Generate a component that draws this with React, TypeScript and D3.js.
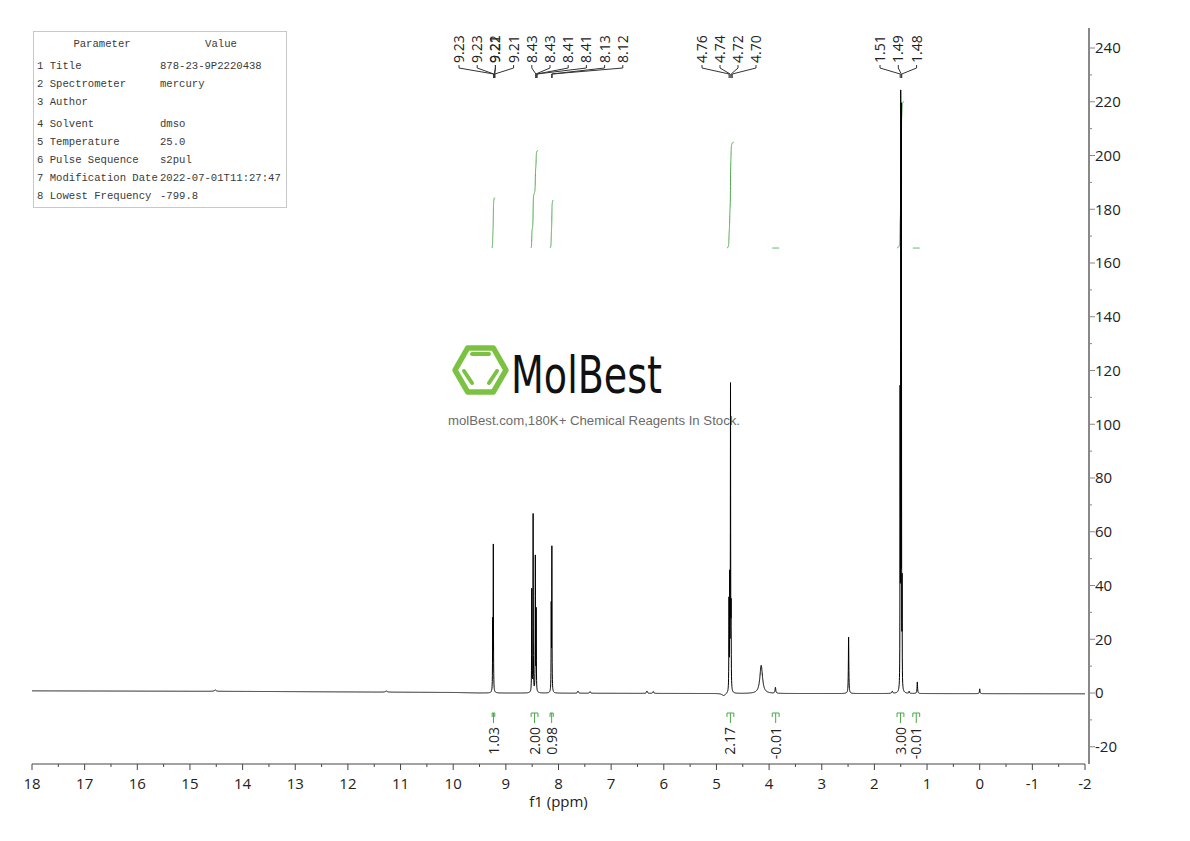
import React from "react";
import * as d3 from "d3";

// ---------------- DATA ----------------
const xTickValues = [18, 17, 16, 15, 14, 13, 12, 11, 10, 9, 8, 7, 6, 5, 4, 3, 2, 1, 0, -1, -2];
const yTickValues = [-20, 0, 20, 40, 60, 80, 100, 120, 140, 160, 180, 200, 220, 240];

// spectrum lines: ppm, height, half-width (ppm)
const peakPpm = [14.52, 11.27, 9.25, 9.238, 8.508, 8.482, 8.44, 8.424, 8.138, 8.126, 7.63, 7.4, 6.32, 6.2,
  4.762, 4.748, 4.733, 4.722, 4.86, 4.15, 3.88, 2.49, 1.66, 1.512, 1.5, 1.487, 1.474, 1.34, 1.185, 0.0];
const peakHeight = [0.5, 0.4, 25, 54, 38, 66, 50, 30, 31, 53, 0.8, 0.6, 0.9, 0.7,
  33, 40, 112, 27, -0.9, 10.5, 2.2, 21, 0.8, 106, 215, 212, 37, 0.8, 4.3, 1.8];
const peakWidth = [0.02, 0.02, 0.003, 0.003, 0.003, 0.003, 0.003, 0.003, 0.003, 0.003, 0.01, 0.01, 0.01, 0.01,
  0.003, 0.003, 0.003, 0.003, 0.04, 0.03, 0.008, 0.005, 0.01, 0.0022, 0.0022, 0.0022, 0.0022, 0.006, 0.006, 0.006];

// baseline drift
const baselinePpm = [18, 14, 10, 9.5, 5, 2, -2];
const baselineVal = [0.8, 0.6, 0.2, 0.0, -0.2, -0.2, -0.3];

// integrals
const integralFrom = [9.26, 8.52, 8.16, 4.8, 3.94, 1.57, 1.27];
const integralTo = [9.21, 8.39, 8.1, 4.67, 3.81, 1.44, 1.14];
const integralValues = ["1.03", "2.00", "0.98", "2.17", "-0.01", "3.00", "-0.01"];

// peak labels
const peakLabelGroup1 = ["9.23", "9.23", "9.22", "9.21", "9.21", "8.43", "8.43", "8.41", "8.41", "8.13", "8.12"];
const peakLabelGroup2 = ["4.76", "4.74", "4.72", "4.70"];
const peakLabelGroup3 = ["1.51", "1.49", "1.48"];

// parameter table
const paramNames = ["1 Title", "2 Spectrometer", "3 Author", "4 Solvent", "5 Temperature", "6 Pulse Sequence", "7 Modification Date", "8 Lowest Frequency"];
const paramValues = ["878-23-9P2220438", "mercury", "", "dmso", "25.0", "s2pul", "2022-07-01T11:27:47", "-799.8"];

// ---------------- LAYOUT ----------------
const x = d3.scaleLinear().domain([18, -2]).range([32, 1085]);
const y = d3.scaleLinear().domain([0, 240]).range([693, 48]);
const AXIS_Y = 764;
const YAXIS_X = 1089;
const PLOT_TOP = 28;
const INTEGRAL_BASE = y.invert(248);
const INTEGRAL_UNIT = 18.2;
const GREEN = "#4aa84a";
const SANS = "'Open Sans', 'Noto Sans', 'Liberation Sans', sans-serif";

const baseline = d3.scaleLinear().domain(baselinePpm).range(baselineVal);

function lineshape(p: number): number {
  let s = 0;
  for (let i = 0; i < peakPpm.length; i++) {
    const d = p - peakPpm[i];
    const w = peakWidth[i];
    s += (peakHeight[i] * w * w) / (d * d + w * w);
  }
  return s;
}

function buildSpectrum(): [number, number][] {
  const pts = new Set<number>();
  for (let k = 0; k <= 10000; k++) pts.add(+(18 - k * 0.002).toFixed(4));
  peakPpm.forEach((p) => pts.add(p));
  const arr = Array.from(pts).sort((a, b) => b - a);
  return arr.map((p) => [p, baseline(p) + lineshape(p)]);
}

function buildIntegral(i: number): [number, number][] {
  const a = integralFrom[i];
  const b = integralTo[i];
  const v = +integralValues[i];
  const n = 200;
  const ppms = d3.range(n + 1).map((k) => a + ((b - a) * k) / n);
  let cum = 0;
  const raw = ppms.map((p) => {
    cum += Math.max(0, lineshape(p));
    return cum;
  });
  const tot = raw[raw.length - 1] || 1;
  const target = Math.max(0, v) * INTEGRAL_UNIT;
  return ppms.map((p, k) => [p, INTEGRAL_BASE + (raw[k] / tot) * target]);
}

const labelGroups = [
  { labels: peakLabelGroup1, slots: [0, 1, 2, 2, 3, 4, 5, 6, 7, 8, 9], firstX: 459, step: 18.2 },
  { labels: peakLabelGroup2, slots: [0, 1, 2, 3], firstX: 702, step: 18 },
  { labels: peakLabelGroup3, slots: [0, 1, 2], firstX: 880, step: 18.3 },
];

export default function App() {
  const spectrum = buildSpectrum();
  const line = d3
    .line<[number, number]>()
    .x((d) => x(d[0]))
    .y((d) => y(d[1]));

  const minorX = d3.range(17.5, -2, -1);
  const minorY = d3.range(-10, 241, 20);

  const hexR = 25.5;
  const hc = [480.5, 370];
  const hexPts = d3.range(6).map((k) => {
    const a = (Math.PI / 3) * k;
    return [hc[0] + hexR * Math.cos(a), hc[1] + hexR * Math.sin(a)];
  });

  return (
    <svg
      width={1190}
      height={841}
      style={{ position: "absolute", left: 0, top: 0, background: "#fff" }}
      fontFamily={SANS}
    >
      <rect x={0} y={0} width={1190} height={841} fill="#fff" />

      {/* parameter table */}
      <g fontFamily="'Liberation Mono', 'DejaVu Sans Mono', monospace" fontSize={10.6} fill="#3a3a3a">
        <rect x={33.5} y={31.5} width={253} height={176} fill="none" stroke="#c8c8c8" />
        <text x={102} y={47} textAnchor="middle">Parameter</text>
        <text x={221} y={47} textAnchor="middle">Value</text>
        {paramNames.map((n, i) => {
          const yy = [69, 87, 105, 127, 145, 163, 181, 199][i];
          return (
            <g key={n}>
              <text x={37} y={yy}>{n}</text>
              <text x={160} y={yy}>{paramValues[i]}</text>
            </g>
          );
        })}
      </g>

      {/* watermark */}
      <g>
        <polygon
          points={hexPts.map((p) => p.join(",")).join(" ")}
          fill="none"
          stroke="#7cc242"
          strokeWidth={5.5}
          strokeLinejoin="round"
        />
        <g stroke="#7cc242" strokeWidth={4} strokeLinecap="round">
          <line x1={472} y1={354} x2={489} y2={354} />
          <line x1={464} y1={371} x2={472} y2={383} />
          <line x1={497} y1={371} x2={489} y2={383} />
        </g>
        <text
          x={511}
          y={393}
          fontFamily="'DejaVu Sans', sans-serif"
          fontStretch="condensed"
          fontSize={52}
          fill="#111"
          textLength={151}
          lengthAdjust="spacingAndGlyphs"
        >
          MolBest
        </text>
        <text
          x={448}
          y={425}
          fontFamily="'Liberation Sans', Arial, sans-serif"
          fontSize={13}
          fill="#6b6b6b"
          textLength={292}
          lengthAdjust="spacingAndGlyphs"
        >
          molBest.com,180K+ Chemical Reagents In Stock.
        </text>
      </g>

      {/* integral curves */}
      {integralFrom.map((_, i) => (
        <path key={"int" + i} d={line(buildIntegral(i)) || ""} fill="none" stroke={GREEN} strokeWidth={1} />
      ))}

      {/* spectrum */}
      <path d={line(spectrum) || ""} fill="none" stroke="#000" strokeWidth={1} />

      {/* peak labels */}
      {labelGroups.map((g, gi) =>
        g.labels.map((t, li) => {
          const lx = g.firstX + g.slots[li] * g.step;
          const tx = x(+t);
          return (
            <g key={"pl" + gi + "-" + li}>
              <text
                transform={`translate(${lx},63) rotate(-90)`}
                dy="0.36em"
                fontSize={14}
                fill="#222"
              >
                {t}
              </text>
              <path
                d={`M${lx},65V68L${tx},74V78`}
                fill="none"
                stroke="#333"
                strokeWidth={1}
              />
            </g>
          );
        })
      )}

      {/* integral brackets and labels */}
      {integralFrom.map((a, i) => {
        const x1 = x(a);
        const x2 = x(integralTo[i]);
        const cx = (x1 + x2) / 2;
        return (
          <g key={"ib" + i}>
            <path
              d={`M${x1},717V713H${x2}V717M${cx},713V723`}
              fill="none"
              stroke={GREEN}
              strokeWidth={1}
            />
            <text
              transform={`translate(${cx},727) rotate(-90)`}
              dy="0.36em"
              textAnchor="end"
              fontSize={14}
              fill="#222"
            >
              {integralValues[i]}
            </text>
          </g>
        );
      })}

      {/* x axis */}
      <g>
        <line x1={x(18)} x2={x(-2)} y1={AXIS_Y} y2={AXIS_Y} stroke="#444" strokeWidth={1} />
        {xTickValues.map((t) => (
          <g key={"xt" + t}>
            <line x1={x(t)} x2={x(t)} y1={AXIS_Y} y2={AXIS_Y + 6} stroke="#444" />
            <text x={x(t)} y={AXIS_Y + 25} textAnchor="middle" fontSize={15} fill="#222">
              {t}
            </text>
          </g>
        ))}
        {minorX.map((t) => (
          <line key={"xm" + t} x1={x(t)} x2={x(t)} y1={AXIS_Y} y2={AXIS_Y + 3} stroke="#444" />
        ))}
        <text x={x(8)} y={AXIS_Y + 43} textAnchor="middle" fontSize={15} fill="#222">
          f1 (ppm)
        </text>
      </g>

      {/* y axis */}
      <g>
        <line x1={YAXIS_X} x2={YAXIS_X} y1={PLOT_TOP} y2={AXIS_Y} stroke="#888" strokeWidth={2} />
        {yTickValues.map((t) => (
          <g key={"yt" + t}>
            <line x1={YAXIS_X} x2={YAXIS_X + 6} y1={y(t)} y2={y(t)} stroke="#888" />
            <text x={YAXIS_X + 6} y={y(t)} dy="0.35em" fontSize={15} fill="#222">
              {t}
            </text>
          </g>
        ))}
        {minorY.map((t) => (
          <line key={"ym" + t} x1={YAXIS_X} x2={YAXIS_X + 3} y1={y(t)} y2={y(t)} stroke="#888" />
        ))}
      </g>
    </svg>
  );
}
